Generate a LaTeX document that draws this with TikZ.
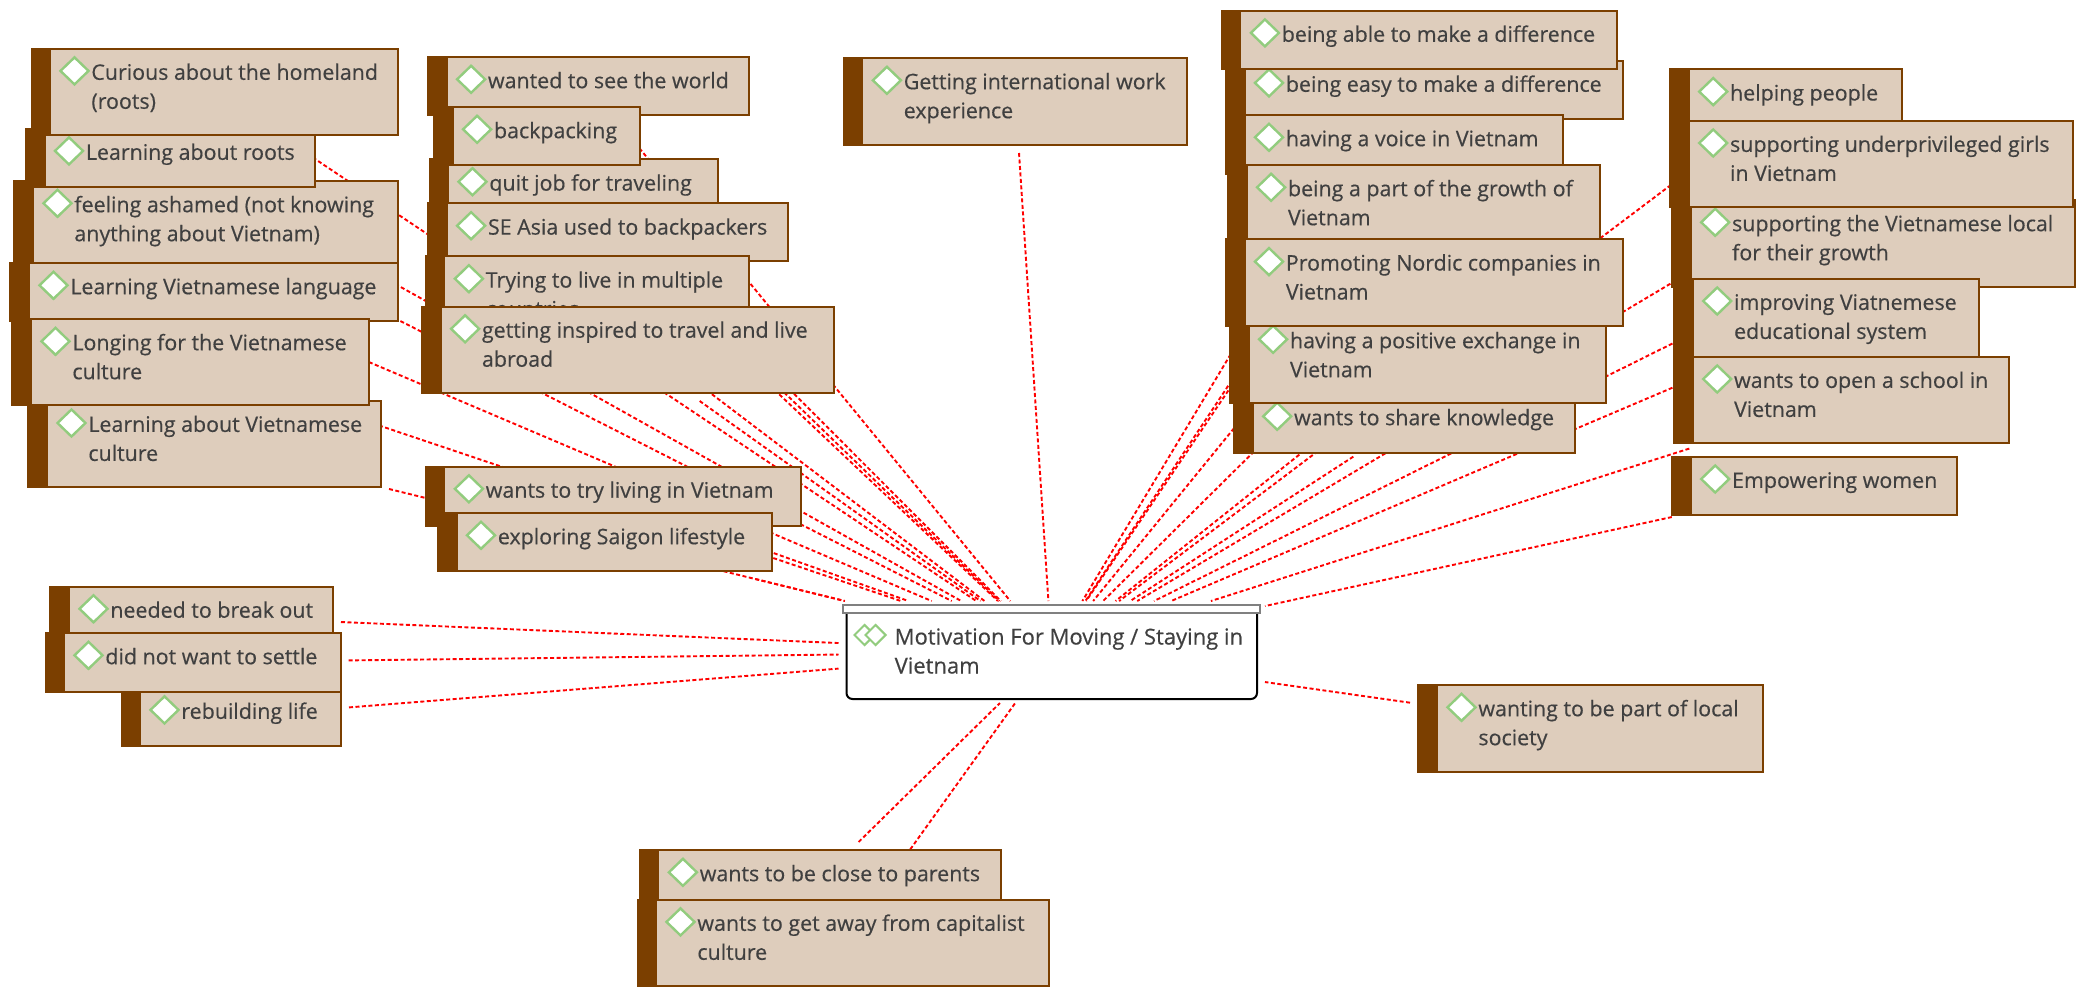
\documentclass[tikz,border=0pt]{standalone}
\usepackage{fontspec}
\setmainfont{Open Sans}[RawFeature={embolden=0.45}]
\usetikzlibrary{fit,shapes.geometric,backgrounds,calc}
\definecolor{barbrown}{HTML}{7B3F00}
\definecolor{boxtan}{HTML}{DECDBC}
\definecolor{inkgrey}{HTML}{404040}
\definecolor{leafgreen}{HTML}{92CC7E}
\tikzset{
  mapbox/.style={draw=barbrown,fill=boxtan,line width=2pt,inner sep=0pt,outer sep=8pt},
  hubbox/.style={draw=black,fill=white,line width=2pt,inner sep=0pt,outer xsep=8pt,outer ysep=4pt,rounded corners=6pt},
  lbl/.style={anchor=base west,inner sep=0pt,text=inkgrey,font=\fontsize{21.4}{29}\selectfont},
  gem/.style={diamond,aspect=1,draw=leafgreen,fill=white,line width=2.4pt,inner sep=0pt,minimum width=29pt,minimum height=28pt},
  gemsmall/.style={diamond,aspect=1,draw=leafgreen,fill=white,line width=2pt,inner sep=0pt,minimum width=21pt,minimum height=21pt},
  link/.style={draw=red,line width=1.9pt,dash pattern=on 4pt off 2.5pt}
}
% name, bar left, fill left, top, right, bottom, line 1, line 2
\newcommand{\tb}[8]{%
  \node[mapbox,fit={(#2,#4)(#5,#6)}] (#1) {};
  \fill[barbrown] (#2+1,#4-1) rectangle (#3,#6+1);
  \node[gem] (#1g) at (#3+23.5,#4+22.3) {};
  \node[lbl] (#1t) at (#3+40.2,#4+31.2) {#7};
  \if\relax\detokenize{#8}\relax\else\node[lbl] (#1u) at (#3+40.2,#4+60.2) {#8};\fi
}
\begin{document}
\begin{tikzpicture}[x=1pt,y=-1pt]
\useasboundingbox (0,0) rectangle (2086,996);
% left column
\tb{culture}{28}{48}{400.7}{381}{487}{Learning about Vietnamese}{culture}
\tb{language}{10}{30}{263}{398}{321}{Learning Vietnamese language}{}
\tb{longing}{12}{32}{319}{369}{405}{Longing for the Vietnamese}{culture}
\tb{ashamed}{14}{34}{181}{398}{263}{feeling ashamed (not knowing}{anything about Vietnam)}
\tb{roots}{26}{45.5}{128.6}{315}{187}{Learning about roots}{}
\tb{curious}{32}{51}{48.6}{398}{135}{Curious about the homeland}{(roots)}
% middle column
\tb{world}{428}{447.6}{57}{749}{115}{wanted to see the world}{}
\tb{quit}{430}{449}{159.4}{717.5}{217}{quit job for traveling}{}
\tb{backpack}{434}{453.6}{107}{640}{165}{backpacking}{}
\tb{seasia}{428}{447.6}{203.4}{788}{261.4}{SE Asia used to backpackers}{}
\tb{multiple}{426}{445.4}{256.4}{749}{343}{Trying to live in multiple}{countries}
\tb{inspired}{422}{441.6}{306.5}{834}{393}{getting inspired to travel and live}{abroad}
\tb{tryliving}{426}{445.4}{466.5}{800.5}{525.5}{wants to try living in Vietnam}{}
\tb{saigon}{438}{457.5}{513}{772}{571}{exploring Saigon lifestyle}{}
% work experience
\tb{work}{844}{863.4}{58}{1187.3}{145}{Getting international work}{experience}
% centre right column
\tb{easy}{1226}{1245.5}{60.6}{1623}{119}{being easy to make a difference}{}
\tb{able}{1222}{1241.4}{10.6}{1617}{69}{being able to make a difference}{}
\tb{voice}{1226}{1245.5}{115}{1563}{173.6}{having a voice in Vietnam}{}
\tb{growth}{1228}{1247.6}{165}{1599.6}{250}{being a part of the growth of}{Vietnam}
\tb{share}{1234}{1253.7}{394}{1575}{453}{wants to share knowledge}{}
\tb{positive}{1230}{1249.6}{317}{1605.7}{403}{having a positive exchange in}{Vietnam}
\tb{nordic}{1226}{1245.5}{239.3}{1623}{325.5}{Promoting Nordic companies in}{Vietnam}
% far right column
\tb{helping}{1670}{1689.7}{69.3}{1901.7}{127}{helping people}{}
\tb{local}{1672}{1691.7}{200}{2075}{287}{supporting the Vietnamese local}{for their growth}
\tb{girls}{1670}{1689.7}{120.7}{2073}{206.7}{supporting underprivileged girls}{in Vietnam}
\tb{educ}{1674}{1693.7}{278.7}{1979.3}{365}{improving Viatnemese}{educational system}
\tb{school}{1674}{1693.7}{356.7}{2009.3}{443}{wants to open a school in}{Vietnam}
\tb{women}{1672}{1691.7}{456.7}{1957.3}{515}{Empowering women}{}
% lower left
\tb{breakout}{50}{70}{586.5}{333}{645}{needed to break out}{}
\tb{rebuild}{122}{141}{687.6}{341}{745.6}{rebuilding life}{}
\tb{settle}{46}{65}{633}{340.6}{691.5}{did not want to settle}{}
% bottom
\tb{parents}{640}{659.4}{850}{1001}{909}{wants to be close to parents}{}
\tb{capital}{638}{657}{899.6}{1048.5}{986}{wants to get away from capitalist}{culture}
% right lower
\tb{society}{1418}{1438}{685}{1763}{771.6}{wanting to be part of local}{society}
% hub
\node[hubbox,fit={(846.5,605)(1257,699)}] (hub) {};
\node[draw=gray,fill=white,line width=2pt,inner sep=0pt,fit={(843,605)(1260,612.5)}] (hubbar) {};
\node[gemsmall] (hubgemback) at (864.5,635) {};
\node[gemsmall] (hubgem) at (875.5,635) {};
\node[lbl,font=\fontsize{22}{29}\selectfont] (hubt) at (894.5,644.5) {Motivation For Moving / Staying in};
\node[lbl,font=\fontsize{22}{29}\selectfont] (hubu) at (894.5,673.5) {Vietnam};
\begin{pgfonlayer}{background}
\foreach \n in {culture,language,longing,ashamed,roots,curious,world,quit,backpack,seasia,multiple,inspired,tryliving,saigon,work,breakout,rebuild,settle,parents,capital,society}
  \draw[link] (\n) -- (hub);
\foreach \n in {easy,able,voice,growth,share,positive,nordic,helping,local,girls,educ,school,women}
  \draw[link,shorten <=-8pt] (\n) -- (hub);
\end{pgfonlayer}
\end{tikzpicture}
\end{document}
